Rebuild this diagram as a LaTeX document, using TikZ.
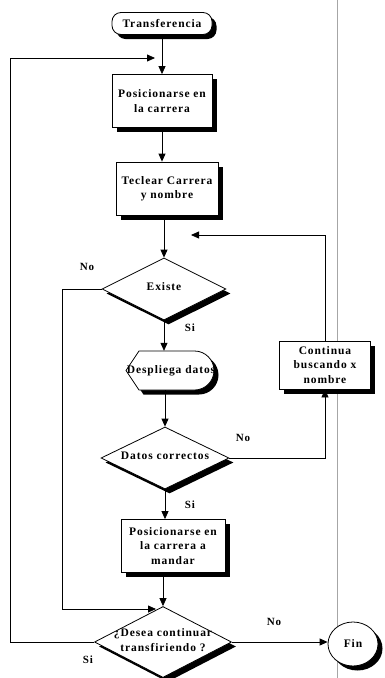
\documentclass[tikz,border=0pt]{standalone}
\usepackage{fontspec}
\setmainfont{Liberation Serif}[LetterSpace=8]
\usetikzlibrary{arrows.meta,shapes.geometric,shadows}
\newcommand\dtext[1]{\makebox[0pt]{\smash{\raisebox{-2pt}{\begin{tabular}{@{}c@{}}#1\end{tabular}}}}}
\begin{document}
\begin{tikzpicture}[x=1pt,y=-1pt,
  every node/.style={font=\bfseries\fontsize{11.5}{14.5}\selectfont},
  shadowed/.style={drop shadow={shadow xshift=4.5pt,shadow yshift=-4.5pt,fill=black,opacity=1}},
  procbox/.style={draw,fill=white,line width=0.8pt,shadowed,align=center,inner sep=0pt},
  decision/.style={diamond,draw,fill=white,line width=0.8pt,shadowed,inner sep=0pt},
  arr/.style={-{Triangle[length=8pt,width=7pt]},line width=0.8pt},
  lbl/.style={font=\bfseries\fontsize{11}{13}\selectfont}
]
\useasboundingbox (0,0) rectangle (384,678);
% page edge line
\draw[gray!70,line width=0.5pt] (337,0) -- (337,678);

\node[procbox,rounded corners=9pt,minimum width=100pt,minimum height=22pt] (start) at (162,23.5) {Transferencia};
\node[procbox,minimum width=100pt,minimum height=53pt] (b1) at (162,101) {Posicionarse en\\la carrera};
\node[procbox,minimum width=102pt,minimum height=53pt] (b2) at (167,188.5) {Teclear Carrera\\y nombre};
\node[decision,minimum width=124pt,minimum height=62pt] (exist) at (164,289) {\dtext{Existe}};

% display shape
\def\disppath{(126,370.5) -- (139,351) -- (194.5,351) arc[start angle=90,end angle=-90,radius=19.5pt] -- (139,390) -- cycle}
\fill[black,shift={(4.5,4.5)}] \disppath;
\draw[fill=white,line width=0.8pt] \disppath;
\node[minimum width=86pt,minimum height=39pt,inner sep=0pt] (desp) at (171,370.5) {Despliega datos};

\node[decision,minimum width=128pt,minimum height=62pt] (datos) at (165,458) {\dtext{Datos correctos}};
\node[procbox,minimum width=104pt,minimum height=53pt] (b3) at (173,546) {Posicionarse en\\la carrera a\\mandar};
\node[decision,minimum width=137pt,minimum height=71pt] (desea) at (163,642) {\dtext{¿Desea continuar\\transfiriendo ?}};
\node[procbox,minimum width=91pt,minimum height=48pt] (cont) at (325,365) {Continua\\buscando x\\nombre};
\node[ellipse,draw,fill=white,line width=0.8pt,shadowed,minimum width=50pt,minimum height=44pt,inner sep=0pt] (fin) at (353,644) {Fin};

\coordinate (ret1) at (191,235);
\coordinate (c2) at (62,609);
\coordinate (ret2) at (156,609);
\coordinate (c3) at (10,58);
\coordinate (ret3) at (155,58);

\draw[arr] (start) -- (b1);
\draw[arr] (b1.south) -- (b1.south |- b2.north);
\draw[arr] (exist.north |- b2.south) -- (exist.north);
\draw[arr] (exist.south) -- (exist.south |- desp.north);
\draw[arr] (datos.north |- desp.south) -- (datos.north);
\draw[arr] (datos.south) -- (datos.south |- b3.north);
\draw[arr] (desea.north |- b3.south) -- (desea.north);
\draw[arr] (desea.east) -- (desea.east -| fin.west);
\draw[arr] (datos.east) -| (cont.south);
\draw[arr] (cont.north) |- (ret1);
\draw[arr] (exist.west) -| (c2) -- (ret2);
\draw[arr] (desea.west) -| (c3) -- (ret3);

\node[lbl] (l1) at (87,267) {No};
\node[lbl] (l2) at (190,328) {Si};
\node[lbl] (l3) at (243,438) {No};
\node[lbl] (l4) at (190,505) {Si};
\node[lbl] (l5) at (274,622) {No};
\node[lbl] (l6) at (88,660) {Si};
\end{tikzpicture}
\end{document}
